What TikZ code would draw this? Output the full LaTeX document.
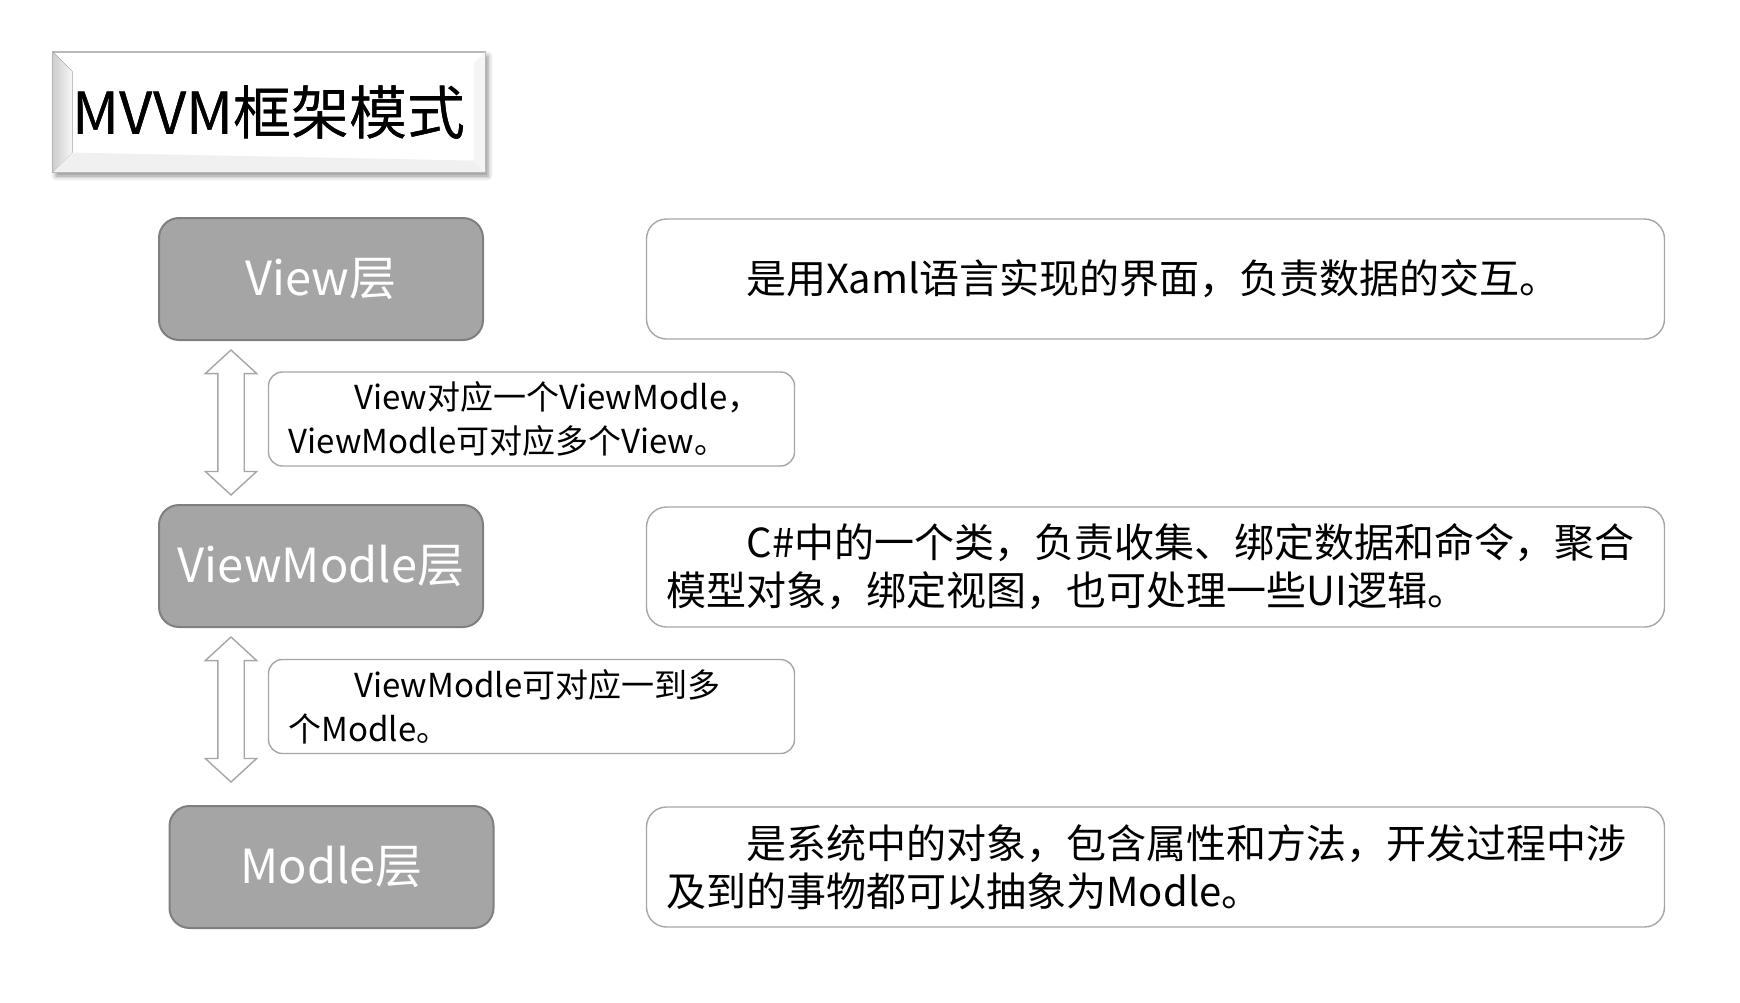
\documentclass[tikz,border=0pt]{standalone}
\usepackage{fontspec}
\setmainfont{Noto Sans CJK SC}
\usetikzlibrary{calc}
\usetikzlibrary{shapes.arrows}
\usetikzlibrary{shadows.blur}
\definecolor{layergray}{HTML}{A5A5A5}
\definecolor{layerline}{HTML}{7F7F7F}
\definecolor{noteline}{HTML}{A6A6A6}
\newcommand{\nohyph}{\hyphenpenalty 10000\exhyphenpenalty 10000\relax}
\tikzset{
  titlebox/.style={draw=gray!55, line width=0.6pt, fill=white, minimum width=216pt, minimum height=60pt,
    font=\fontsize{29}{34}\selectfont,
    blur shadow={shadow xshift=1.5pt, shadow yshift=-2pt, shadow blur radius=2.5pt, shadow opacity=45}},
  layer/.style={draw=layerline, line width=1pt, fill=layergray, rounded corners=10pt,
    minimum width=162pt, minimum height=61pt, text=white, font=\fontsize{23.5}{28}\selectfont},
  desc/.style={draw=noteline, line width=0.7pt, fill=white, rounded corners=10pt, text width=489pt,
    inner xsep=10pt, minimum height=60pt, align=left, font=\fontsize{20}{24}\selectfont\nohyph},
  note/.style={draw=noteline, line width=0.7pt, fill=white, rounded corners=7pt, text width=243pt,
    inner xsep=10pt, minimum height=47pt, align=left, font=\fontsize{16.5}{22}\selectfont\nohyph},
  dblarrow/.style={double arrow, draw=noteline, line width=0.7pt, fill=white, rotate=90,
    minimum height=72.5pt, minimum width=25pt, double arrow head extend=6.25pt,
    inner sep=6.25pt, double arrow tip angle=95}
}
\begin{document}
\begin{tikzpicture}[x=0.5pt,y=-0.5pt]
	\useasboundingbox (0,0) rectangle (1740,1002);

	% title
	\node[titlebox] (title) at (269,112) {MVVM框架模式};
	\fill[left color=gray!40, right color=gray!6] (title.north west) -- ++(10pt,-10pt)
		-- ($(title.south west)+(10pt,10pt)$) -- (title.south west) -- cycle;
	\fill[gray!12] (title.south west) -- ++(10pt,10pt) -- ($(title.south east)+(-6pt,6pt)$)
		-- (title.south east) -- cycle;
	\fill[gray!8] (title.north east) -- ++(-6pt,-6pt) -- ($(title.south east)+(-6pt,6pt)$)
		-- (title.south east) -- cycle;
	\draw[gray!55, line width=0.6pt] (title.north west) rectangle (title.south east);
	\node[font=\fontsize{29}{34}\selectfont] at (title) {MVVM框架模式};

	% layers
	\node[layer] (view) at (321,279) {View层};
	\node[layer] (vm) at (321,566) {ViewModle层};
	\node[layer] (modle) at (331.5,867) {Modle层};

	\node[desc] (dview) at (1155.5,279) {\hspace*{2em}是用Xaml语言实现的界面，负责数据的交互。};
	\node[desc] (dvm) at (1155.5,567) {\hspace*{2em}C\#中的一个类，负责收集、绑定数据和命令，聚合\\模型对象，绑定视图，也可处理一些UI逻辑。};
	\node[desc] (dmodle) at (1155.5,867) {\hspace*{2em}是系统中的对象，包含属性和方法，开发过程中涉\\及到的事物都可以抽象为Modle。};

	% relations
	\node[dblarrow] (a1) at (231,422.5) {};
	\node[dblarrow] (a2) at (231,709.5) {};
	\node[note] (n1) at (531.5,419) {\hspace*{2em}View对应一个ViewModle，\\ViewModle可对应多个View。};
	\node[note] (n2) at (531.5,706.5) {\hspace*{2em}ViewModle可对应一到多\\个Modle。};
\end{tikzpicture}
\end{document}
